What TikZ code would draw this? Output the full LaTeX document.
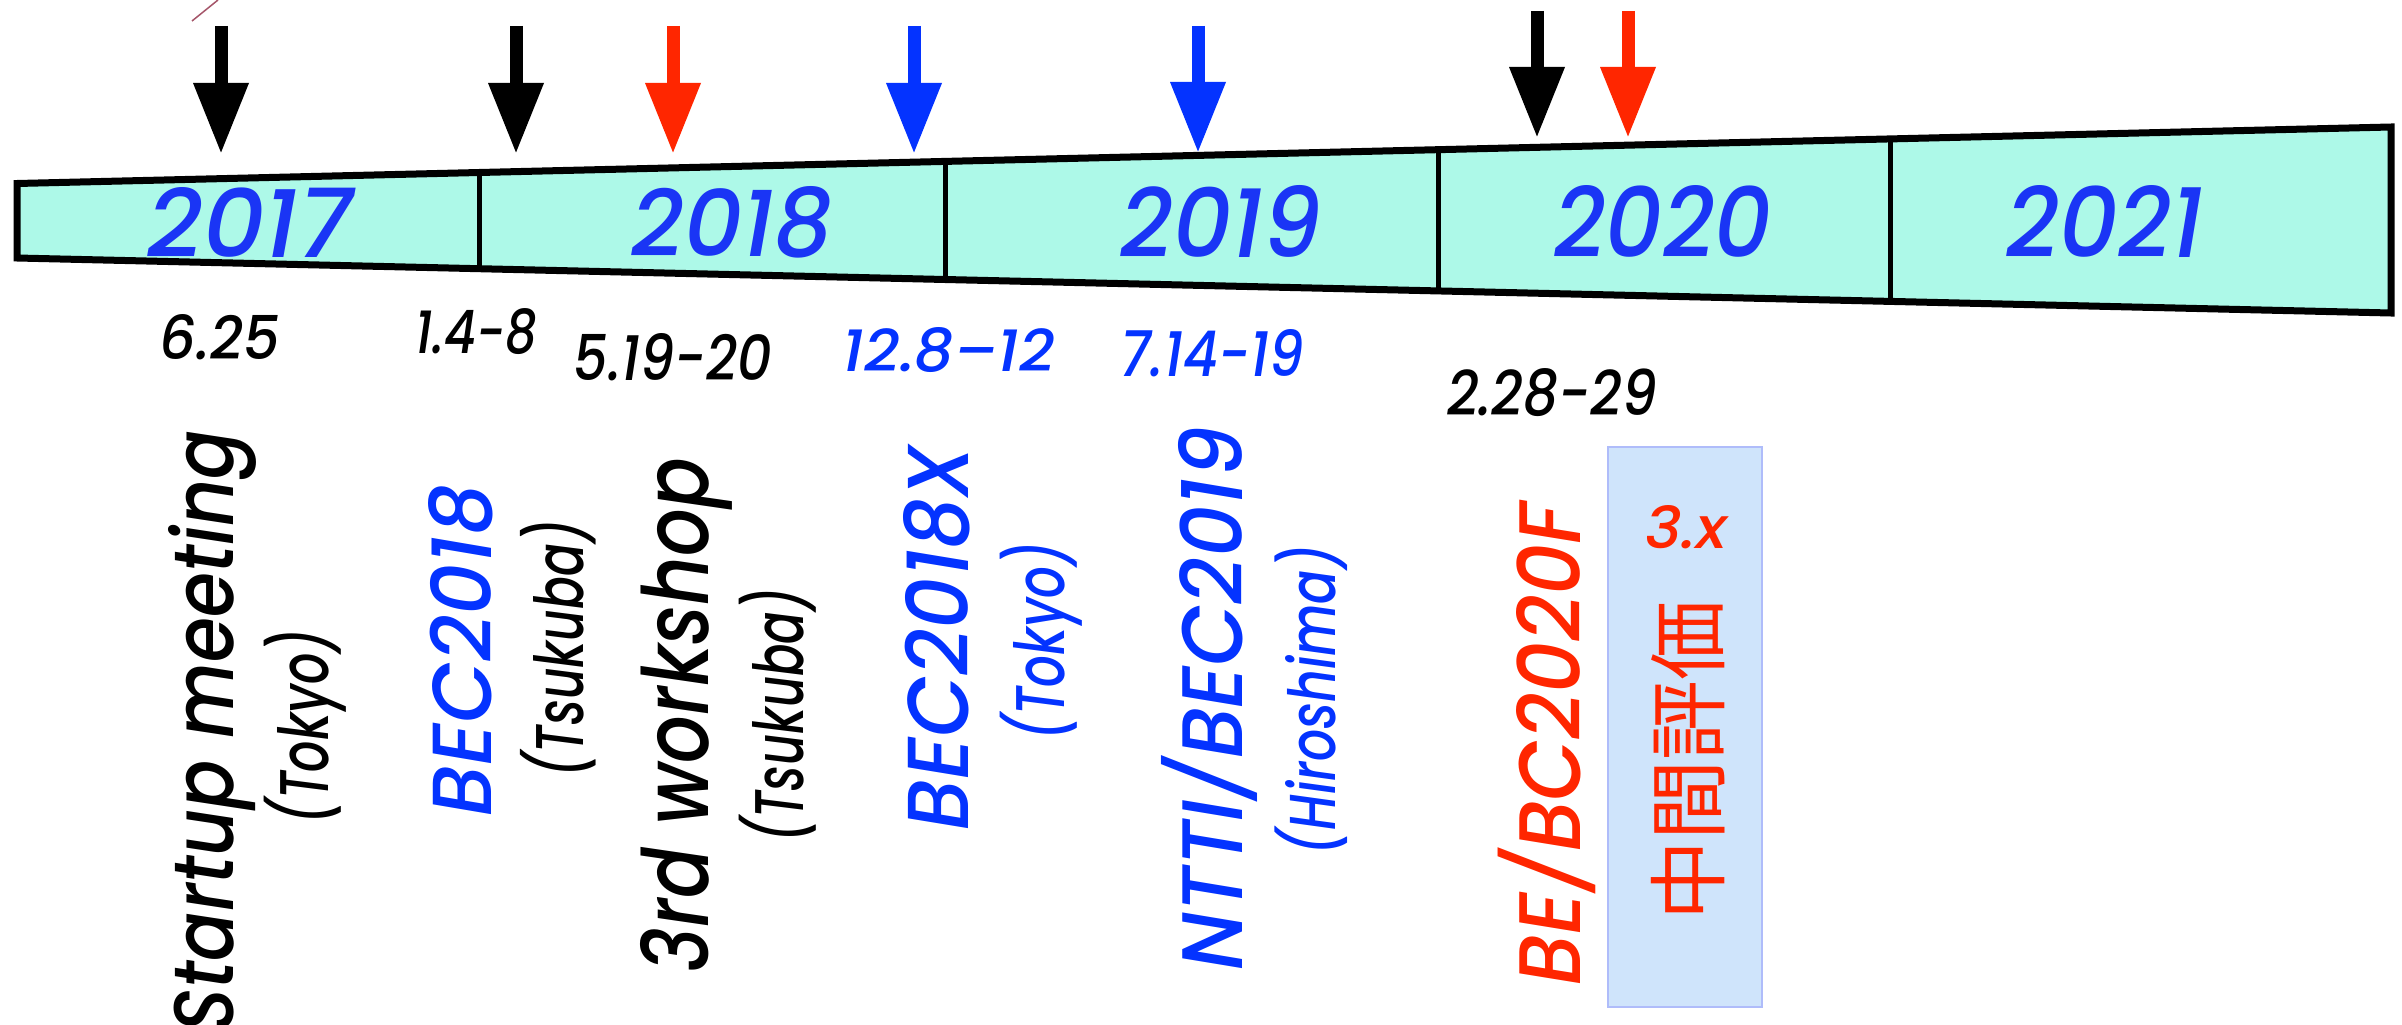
\documentclass[tikz,border=0pt]{standalone}
\usepackage{fontspec}
\usepackage{graphicx}
\setmainfont{Poppins}[UprightFont={* Medium},ItalicFont={* Medium Italic}]
\newfontfamily\cjk{Noto Sans CJK JP}
\usetikzlibrary{arrows.meta,calc}
\definecolor{kblue}{RGB}{4,51,255}
\definecolor{yblue}{RGB}{26,53,245}
\definecolor{kred}{RGB}{255,38,0}
\definecolor{bandfill}{RGB}{173,249,232}
\definecolor{boxfill}{RGB}{207,228,251}
\definecolor{boxborder}{RGB}{175,188,250}
\definecolor{mauve}{RGB}{165,85,105}
\newcommand{\fitt}[3]{\resizebox{#1pt}{#2pt}{\itshape #3}}
\newcommand{\sm}[1]{\smash{#1}}
\begin{document}
\begin{tikzpicture}[x=1pt,y=-1pt,
  rot/.style={rotate=90, anchor=base west, inner sep=0pt, outer sep=0pt},
  hor/.style={anchor=center, inner sep=0pt, outer sep=0pt},
  evarrow/.style={line width=13pt, -{Triangle[length=71pt,width=52pt]}},
  divider/.style={line width=5pt},
  boxstyle/.style={draw=boxborder, fill=boxfill, line width=2pt, inner sep=0pt, minimum width=154pt, minimum height=560pt}
]
\useasboundingbox (0,0) rectangle (2402,1025);
\fill[white] (0,0) rectangle (2402,1025);

% stray mark
\coordinate (m1) at (192,21);
\coordinate (m2) at (218,0);
\draw[mauve, line width=1.5pt] (m1) -- (m2);

% band
\coordinate (TL) at (17,183.5);
\coordinate (TR) at (2391,127);
\coordinate (BR) at (2391,313);
\coordinate (BL) at (17,258);
\filldraw[fill=bandfill, draw=black, line width=7pt, line join=miter] (TL) -- (TR) -- (BR) -- (BL) -- cycle;
\foreach \t in {0.1950,0.3909,0.5986,0.7890}{
  \draw[divider] ($(TL)!\t!(TR)$) -- ($(BL)!\t!(BR)$);
}

% years
\node[hor, text=yblue] (y17) at (250,222) {\fitt{205}{70}{2017}};
\node[hor, text=yblue] (y18) at (732,222) {\fitt{201}{70}{2018}};
\node[hor, text=yblue] (y19) at (1221,221) {\fitt{201}{72}{2019}};
\node[hor, text=yblue] (y20) at (1663,221) {\fitt{217}{72}{2020}};
\node[hor, text=yblue] (y21) at (2105,221) {\fitt{197}{72}{2021}};

% arrows
\coordinate (a1s) at (221,26);  \coordinate (a1e) at (221,154);
\coordinate (a2s) at (516,26);  \coordinate (a2e) at (516,154);
\coordinate (a3s) at (673,26);  \coordinate (a3e) at (673,154);
\coordinate (a4s) at (914,26);  \coordinate (a4e) at (914,154);
\coordinate (a5s) at (1198,26); \coordinate (a5e) at (1198,153);
\coordinate (a6s) at (1537,11); \coordinate (a6e) at (1537,138);
\coordinate (a7s) at (1628,11); \coordinate (a7e) at (1628,138);
\draw[evarrow, black] (a1s) -- (a1e);
\draw[evarrow, black] (a2s) -- (a2e);
\draw[evarrow, kred]  (a3s) -- (a3e);
\draw[evarrow, kblue] (a4s) -- (a4e);
\draw[evarrow, kblue] (a5s) -- (a5e);
\draw[evarrow, black] (a6s) -- (a6e);
\draw[evarrow, kred]  (a7s) -- (a7e);

% dates
\node[hor, text=black] (d1) at (220,337) {\fitt{120}{45}{6.25}};
\node[hor, text=black] (d2) at (476,332) {\fitt{122}{45}{1.4-8}};
\node[hor, text=black] (d3) at (673,357) {\fitt{198}{47}{5.19-20}};
\node[hor, text=kblue] (d4) at (949,350) {\fitt{212}{44}{12.8–12}};
\node[hor, text=kblue] (d5) at (1212,353) {\fitt{183}{47}{7.14-19}};
\node[hor, text=black] (d6) at (1552,393) {\fitt{210}{47}{2.28-29}};

% box
\node[boxstyle] (box) at (1685,727) {};

% vertical texts
\node[rot, text=black] (t1) at (233,1032) {\fitt{602}{65}{Startup meeting}};
\node[rot, text=black] (t1b) at (328,824) {\fitt{195}{51}{\sm{(}Tokyo\sm{)}}};
\node[rot, text=kblue] (t2) at (491,816) {\fitt{331}{63}{BEC2018}};
\node[rot, text=black] (t2b) at (583,777) {\fitt{257}{50}{\sm{(}Tsukuba\sm{)}}};
\node[rot, text=black] (t3) at (708,972) {\fitt{514}{68}{3rd workshop}};
\node[rot, text=black] (t3b) at (803,842) {\fitt{254}{51}{\sm{(}Tsukuba\sm{)}}};
\node[rot, text=kblue] (t4) at (968,830) {\fitt{384}{65}{BEC2018X}};
\node[rot, text=kblue] (t4b) at (1064,740) {\fitt{198}{51}{\sm{(}Tokyo\sm{)}}};
\node[rot, text=kblue] (t5) at (1242,970) {\fitt{543}{64}{NTTI\sm{/}BEC2019}};
\node[rot, text=kblue] (t5b) at (1335,855) {\fitt{310}{50}{\sm{(}Hiroshima\sm{)}}};
\node[rot, text=kred] (t6) at (1580,985) {\fitt{482}{64}{BE\sm{/}BC2020F}};

\node[hor, text=kred] (t7a) at (1686,527) {\fitt{82}{43}{3.x}};
\node[rotate=90, inner sep=0pt, text=kred, font=\cjk\fontsize{80}{80}\selectfont] (t7) at (1688,760) {中間評価};
\end{tikzpicture}
\end{document}
